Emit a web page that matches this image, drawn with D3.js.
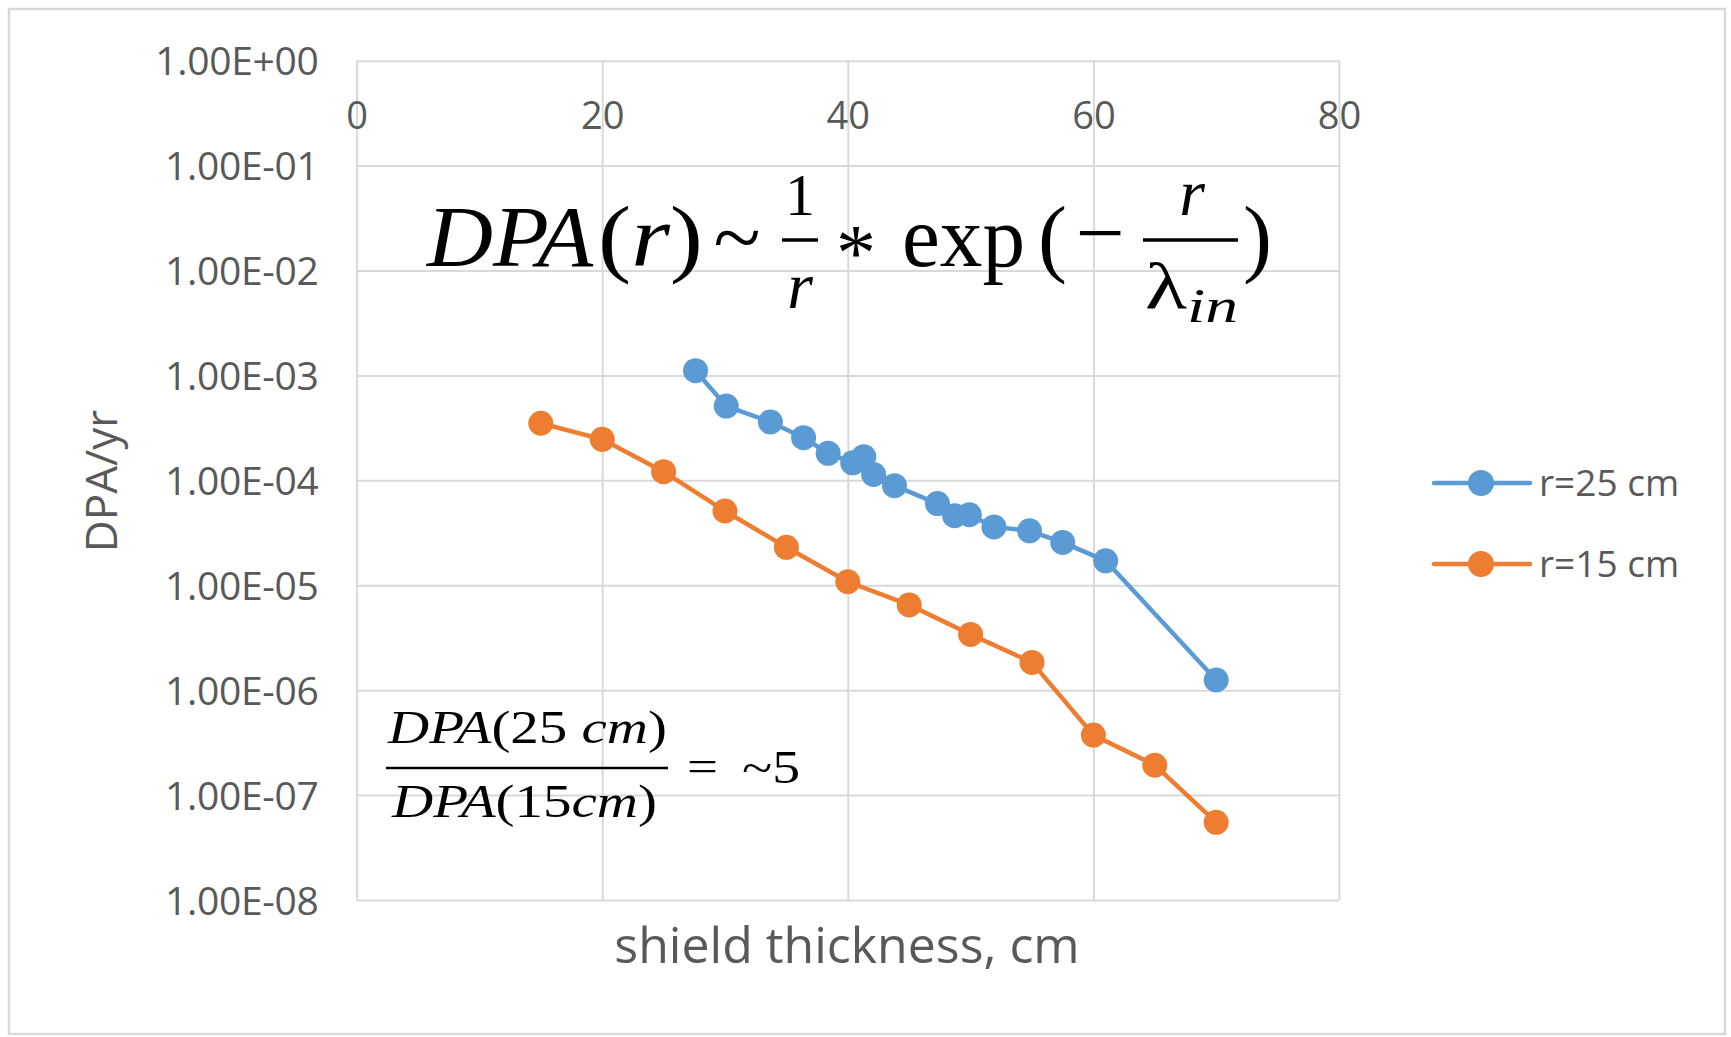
<!DOCTYPE html>
<html lang="en">
<head>
  <meta charset="UTF-8">
  <title>DPA vs shield thickness</title>
  <script src="https://d3js.org/d3.v7.min.js"></script>
  <style>
    body { margin: 0; background: #fff; }
    .tick-label { font-family: "Open Sans", sans-serif; fill: #595959; }
    .math { font-family: "Liberation Serif", serif; fill: #000; }
  </style>
</head>
<body>
  <svg id="chart" width="1731" height="1037"></svg>

  <script>
    // shield thickness (cm) and DPA/yr
    const thick25 = [27.6, 30.1, 33.7, 36.4, 38.4, 40.4, 41.3, 42.1, 43.8, 47.3, 48.7, 49.9, 51.9, 54.8, 57.5, 61.0, 70.0];
    const dpa25   = [1.11e-3, 5.1e-4, 3.6e-4, 2.55e-4, 1.81e-4, 1.47e-4, 1.68e-4, 1.14e-4, 8.9e-5, 6.0e-5, 4.6e-5, 4.7e-5, 3.6e-5, 3.3e-5, 2.56e-5, 1.71e-5, 1.25e-6];
    const thick15 = [15, 20, 25, 30, 35, 40, 45, 50, 55, 60, 65, 70];
    const dpa15   = [3.5e-4, 2.46e-4, 1.21e-4, 5.1e-5, 2.3e-5, 1.08e-5, 6.5e-6, 3.4e-6, 1.84e-6, 3.73e-7, 1.93e-7, 5.5e-8];

    const seriesNames = ["r=25 cm", "r=15 cm"];
    const xTicks = [0, 20, 40, 60, 80];
    const yTicks = [1, 1e-1, 1e-2, 1e-3, 1e-4, 1e-5, 1e-6, 1e-7, 1e-8];
    const yTickLabels = ["1.00E+00", "1.00E-01", "1.00E-02", "1.00E-03", "1.00E-04", "1.00E-05", "1.00E-06", "1.00E-07", "1.00E-08"];

    const svg = d3.select("#chart");
    const plot = {left: 356.6, right: 1339, top: 60.7, bottom: 900};

    const colors = ["#5B9BD5", "#ED7D31"];
    const grid = "#d9d9d9";

    const x = d3.scaleLinear().domain([0, 80]).range([plot.left, plot.right]);
    const y = d3.scaleLog().domain([1e-8, 1]).range([plot.bottom, plot.top]);

    // outer chart border
    svg.append("rect")
      .attr("x", 9).attr("y", 9)
      .attr("width", 1716).attr("height", 1025)
      .attr("fill", "#fff")
      .attr("stroke", grid)
      .attr("stroke-width", 2.5);

    // gridlines
    const gx = svg.append("g")
      .attr("transform", `translate(0,${plot.bottom})`)
      .call(d3.axisBottom(x).tickValues(xTicks).tickSize(-(plot.bottom - plot.top)).tickFormat(""));
    const gy = svg.append("g")
      .attr("transform", `translate(${plot.left},0)`)
      .call(d3.axisLeft(y).tickValues(yTicks).tickSize(-(plot.right - plot.left)).tickFormat(""));
    [gx, gy].forEach(g => {
      g.select(".domain").remove();
      g.selectAll("line").attr("stroke", grid).attr("stroke-width", 2);
    });

    // y tick labels
    const yAxis = svg.append("g")
      .attr("transform", `translate(${plot.left},0)`)
      .call(d3.axisLeft(y).tickValues(yTicks).tickSize(0).tickPadding(38)
        .tickFormat((d, i) => yTickLabels[i]));
    yAxis.select(".domain").remove();
    yAxis.selectAll("text")
      .attr("class", "tick-label")
      .attr("dy", "0.36em")
      .style("font-size", "39px")
      .style("letter-spacing", "-0.3px");

    // x tick labels sit at the top of the plot (axis crosses at 1)
    const xAxis = svg.append("g")
      .attr("transform", `translate(0,115)`)
      .call(d3.axisBottom(x).tickValues(xTicks).tickSize(0).tickPadding(0));
    xAxis.select(".domain").remove();
    xAxis.selectAll("text")
      .attr("class", "tick-label")
      .attr("y", 0)
      .attr("dy", "0.36em")
      .style("font-size", "38px");

    // axis titles
    svg.append("text")
      .attr("class", "tick-label")
      .attr("transform", "translate(117,481) rotate(-90)")
      .attr("text-anchor", "middle")
      .style("font-size", "44px")
      .text("DPA/yr");

    svg.append("text")
      .attr("class", "tick-label")
      .attr("x", 847).attr("y", 963)
      .attr("text-anchor", "middle")
      .style("font-size", "50px")
      .text("shield thickness, cm");

    // series
    const series = [
      {name: seriesNames[0], pts: thick25.map((t, i) => ({x: t, y: dpa25[i]}))},
      {name: seriesNames[1], pts: thick15.map((t, i) => ({x: t, y: dpa15[i]}))}
    ];

    const line = d3.line().x(d => x(d.x)).y(d => y(d.y));

    series.forEach((s, i) => {
      const g = svg.append("g");
      g.append("path")
        .datum(s.pts)
        .attr("d", line)
        .attr("fill", "none")
        .attr("stroke", colors[i])
        .attr("stroke-width", 4.5)
        .attr("stroke-linejoin", "round");
      g.selectAll("circle")
        .data(s.pts)
        .join("circle")
        .attr("cx", d => x(d.x))
        .attr("cy", d => y(d.y))
        .attr("r", 12.5)
        .attr("fill", colors[i]);
    });

    // legend
    const legend = svg.append("g").attr("transform", "translate(1434,483)");
    seriesNames.forEach((name, i) => {
      const row = legend.append("g").attr("transform", `translate(0,${i * 81})`);
      row.append("line")
        .attr("x1", 0).attr("x2", 96)
        .attr("stroke", colors[i])
        .attr("stroke-width", 4.5)
        .attr("stroke-linecap", "round");
      row.append("circle")
        .attr("cx", 47).attr("r", 13)
        .attr("fill", colors[i]);
      row.append("text")
        .attr("class", "tick-label")
        .attr("x", 105)
        .attr("dy", "0.36em")
        .style("font-size", "37px")
        .text(name);
    });

    // formula annotations
    function mt(px, py, size, parts, opts = {}) {
      const t = svg.append("text")
        .attr("class", "math")
        .attr("x", px).attr("y", py)
        .style("font-size", size + "px")
        .attr("text-anchor", opts.anchor || "start");
      if (opts.len) t.attr("textLength", opts.len).attr("lengthAdjust", "spacingAndGlyphs");
      parts.forEach(p => {
        const [str, it] = Array.isArray(p) ? p : [p, false];
        t.append("tspan").style("font-style", it ? "italic" : "normal").text(str);
      });
      return t;
    }
    function bar(x1, x2, yy, w) {
      svg.append("line")
        .attr("x1", x1).attr("x2", x2).attr("y1", yy).attr("y2", yy)
        .attr("stroke", "#000").attr("stroke-width", w);
    }

    // DPA(r) ~ 1/r * exp(-r/lambda_in)
    mt(427, 266, 87, [["DPA", true]], {len: 166});
    mt(598, 266, 87, ["(", ["r", true], ")"], {len: 105});
    mt(737, 266, 87, ["~"], {anchor: "middle"});
    bar(782, 818, 240, 3.5);
    mt(800, 215, 60, ["1"], {anchor: "middle"});
    mt(800, 308, 66, [["r", true]], {anchor: "middle"});
    mt(856, 280, 80, ["*"], {anchor: "middle"});
    mt(902, 266, 87, ["exp"], {len: 123});
    mt(1038, 266, 87, ["("]);
    mt(1100, 262, 87, ["\u2212"], {anchor: "middle"});
    bar(1143, 1238, 240, 3.5);
    mt(1192, 215, 66, [["r", true]], {anchor: "middle"});
    mt(1145, 308, 66, ["\u03bb"], {len: 42});
    mt(1187, 322, 48, [["in", true]], {len: 51});
    mt(1243, 266, 87, [")"]);

    // DPA(25 cm)/DPA(15cm) = ~5
    mt(388, 743, 46, [["DPA", true], "(25 ", ["cm", true], ")"], {len: 279});
    bar(386, 668, 768, 2.5);
    mt(392, 817, 46, [["DPA", true], "(15", ["cm", true], ")"], {len: 265});
    mt(687, 781, 44, ["="], {len: 31});
    mt(742, 783, 46, ["~5"], {len: 58});
  </script>
</body>
</html>
